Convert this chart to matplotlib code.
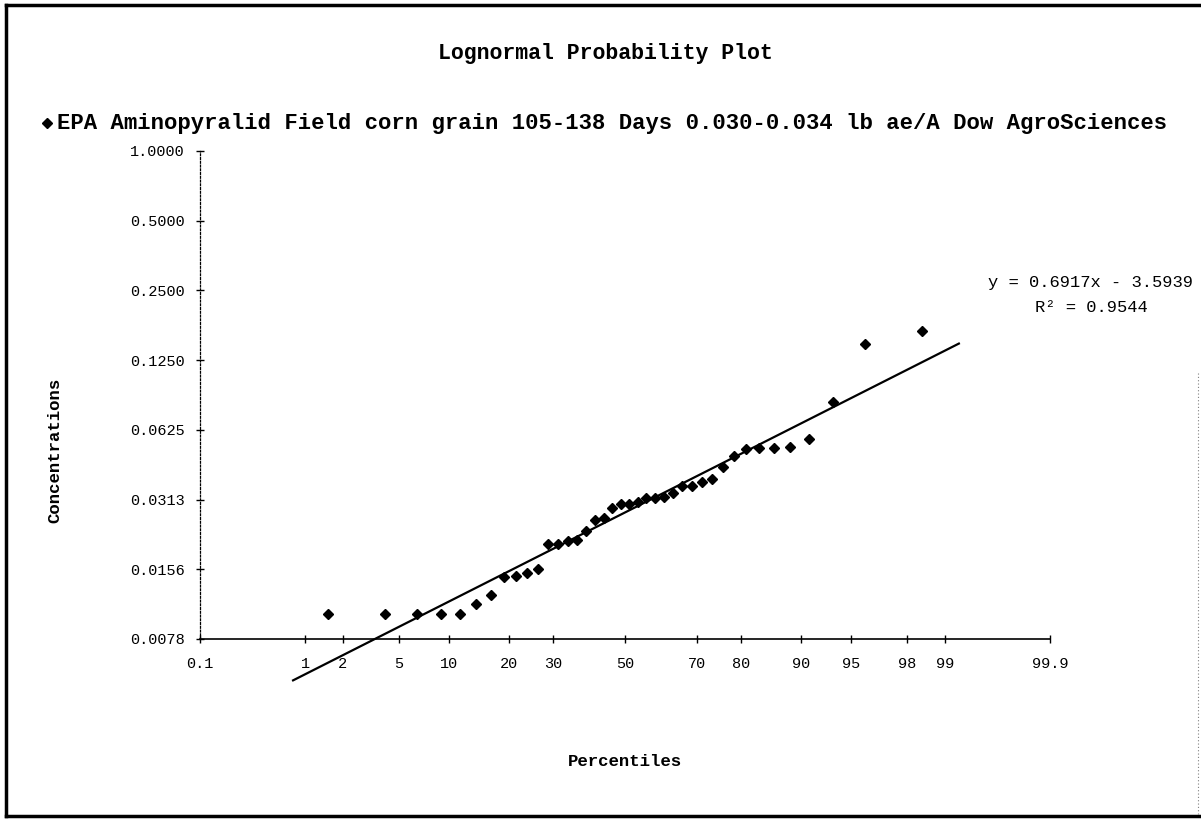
import matplotlib
matplotlib.use("Agg")
import matplotlib.pyplot as plt
from matplotlib.lines import Line2D
from statistics import NormalDist
import numpy as np

# ---------------- data ----------------
title = "Lognormal Probability Plot"
series_name = "EPA Aminopyralid Field corn grain 105-138 Days 0.030-0.034 lb ae/A Dow AgroSciences"
x_label = "Percentiles"
y_label = "Concentrations"

percentiles = [1.55, 4.04, 6.52, 9.01, 11.49, 13.98, 16.46, 18.94, 21.43, 23.91,
               26.40, 28.88, 31.37, 33.85, 36.34, 38.82, 41.30, 43.79, 46.27, 48.76,
               51.24, 53.73, 56.21, 58.70, 61.18, 63.66, 66.15, 68.63, 71.12, 73.60,
               76.09, 78.57, 81.06, 83.54, 86.02, 88.51, 90.99, 93.48, 95.96, 98.45]
concentrations = [0.0100, 0.0100, 0.0100, 0.0100, 0.0100, 0.0111, 0.0121, 0.0144, 0.0146, 0.0151,
                  0.0157, 0.0200, 0.0201, 0.0208, 0.0210, 0.0229, 0.0254, 0.0259, 0.0286, 0.0298,
                  0.0298, 0.0306, 0.0319, 0.0319, 0.0322, 0.0332, 0.0358, 0.0358, 0.0374, 0.0382,
                  0.0434, 0.0480, 0.0515, 0.0520, 0.0522, 0.0525, 0.0569, 0.0822, 0.1466, 0.1669]

x_tick_percentiles = [0.1, 1, 2, 5, 10, 20, 30, 50, 70, 80, 90, 95, 98, 99, 99.9]
x_tick_labels = ["0.1", "1", "2", "5", "10", "20", "30", "50", "70", "80", "90",
                 "95", "98", "99", "99.9"]
y_ticks = [0.0078125, 0.015625, 0.03125, 0.0625, 0.125, 0.25, 0.5, 1.0]
y_tick_labels = ["0.0078", "0.0156", "0.0313", "0.0625", "0.1250", "0.2500",
                 "0.5000", "1.0000"]

trend_slope = 0.6917
trend_intercept = -3.5939
trend_r2 = 0.9544
trend_percentile_range = [0.79, 99.24]
x_range_percentiles = [0.1, 99.9]

# ---------------- figure ----------------
W, H = 1201, 819
FONT = "Liberation Mono"
fig = plt.figure(figsize=(W / 100, H / 100), dpi=100)
fig.patch.set_facecolor("white")

def fx(px):
    return px / W

def fy(py):
    return 1 - py / H

nd = NormalDist()
def probit(p):
    return nd.inv_cdf(p / 100.0)

ax = fig.add_axes([fx(200), fy(639), fx(1050) - fx(200), fy(151) - fy(639)])
ax.set_facecolor("white")
ax.set_yscale("log", base=2)
ax.set_xlim(probit(x_range_percentiles[0]), probit(x_range_percentiles[1]))
ax.set_ylim(y_ticks[0], y_ticks[-1])

# points
xz = [probit(p) for p in percentiles]
ax.plot(xz, concentrations, linestyle="none", marker="D", markersize=5,
        color="black", clip_on=False, zorder=3)

# trend line
zl = np.linspace(probit(trend_percentile_range[0]), probit(trend_percentile_range[1]), 50)
ax.plot(zl, np.exp(trend_slope * zl + trend_intercept), color="black", lw=1.6,
        clip_on=False, zorder=2)

# axes styling
for s in ["top", "right"]:
    ax.spines[s].set_visible(False)
ax.spines["bottom"].set_linewidth(1.2)
ax.spines["left"].set_linewidth(0.9)
ax.spines["left"].set_linestyle((0, (1.5, 1.5)))

ax.set_xticks([probit(p) for p in x_tick_percentiles])
ax.set_xticklabels(x_tick_labels, fontfamily=FONT, fontsize=11)
ax.set_yticks(y_ticks)
ax.set_yticklabels(y_tick_labels, fontfamily=FONT, fontsize=11)
ax.minorticks_off()
ax.tick_params(axis="x", direction="inout", length=6, width=1, pad=10, colors="black")
ax.tick_params(axis="y", direction="inout", length=6, width=1, pad=8, colors="black")

# texts
fig.text(fx(605), fy(53), title, fontfamily=FONT, fontweight="bold", fontsize=15.5,
         ha="center", va="center")
fig.add_artist(Line2D([fx(47)], [fy(123)], marker="D", markersize=5, color="black",
                      linestyle="none", transform=fig.transFigure))
fig.text(fx(57), fy(123), series_name, fontfamily=FONT, fontweight="bold", fontsize=16,
         ha="left", va="center")
fig.text(fx(1091), fy(282), "y = %.4fx - %.4f" % (trend_slope, -trend_intercept),
         fontfamily=FONT, fontsize=12.3, ha="center", va="center")
fig.text(fx(1091), fy(308), "R² = %.4f" % trend_r2,
         fontfamily=FONT, fontsize=12.3, ha="center", va="center")
fig.text(fx(55), fy(450), y_label, fontfamily=FONT, fontweight="bold", fontsize=12.5,
         rotation=90, ha="center", va="center")
fig.text(fx(625), fy(762), x_label, fontfamily=FONT, fontweight="bold", fontsize=12.5,
         ha="center", va="center")

# outer frame
frame_kw = dict(color="black", lw=2.5, transform=fig.transFigure)
fig.add_artist(Line2D([fx(6), fx(6)], [fy(5), fy(816)], **frame_kw))
fig.add_artist(Line2D([fx(6), fx(1201)], [fy(5), fy(5)], **frame_kw))
fig.add_artist(Line2D([fx(6), fx(1201)], [fy(816), fy(816)], **frame_kw))
fig.add_artist(Line2D([fx(1198), fx(1198)], [fy(373), fy(816)], color="gray", lw=0.8,
                      linestyle=(0, (1, 2)), transform=fig.transFigure))

fig.savefig("out.png", dpi=100, facecolor="white")
